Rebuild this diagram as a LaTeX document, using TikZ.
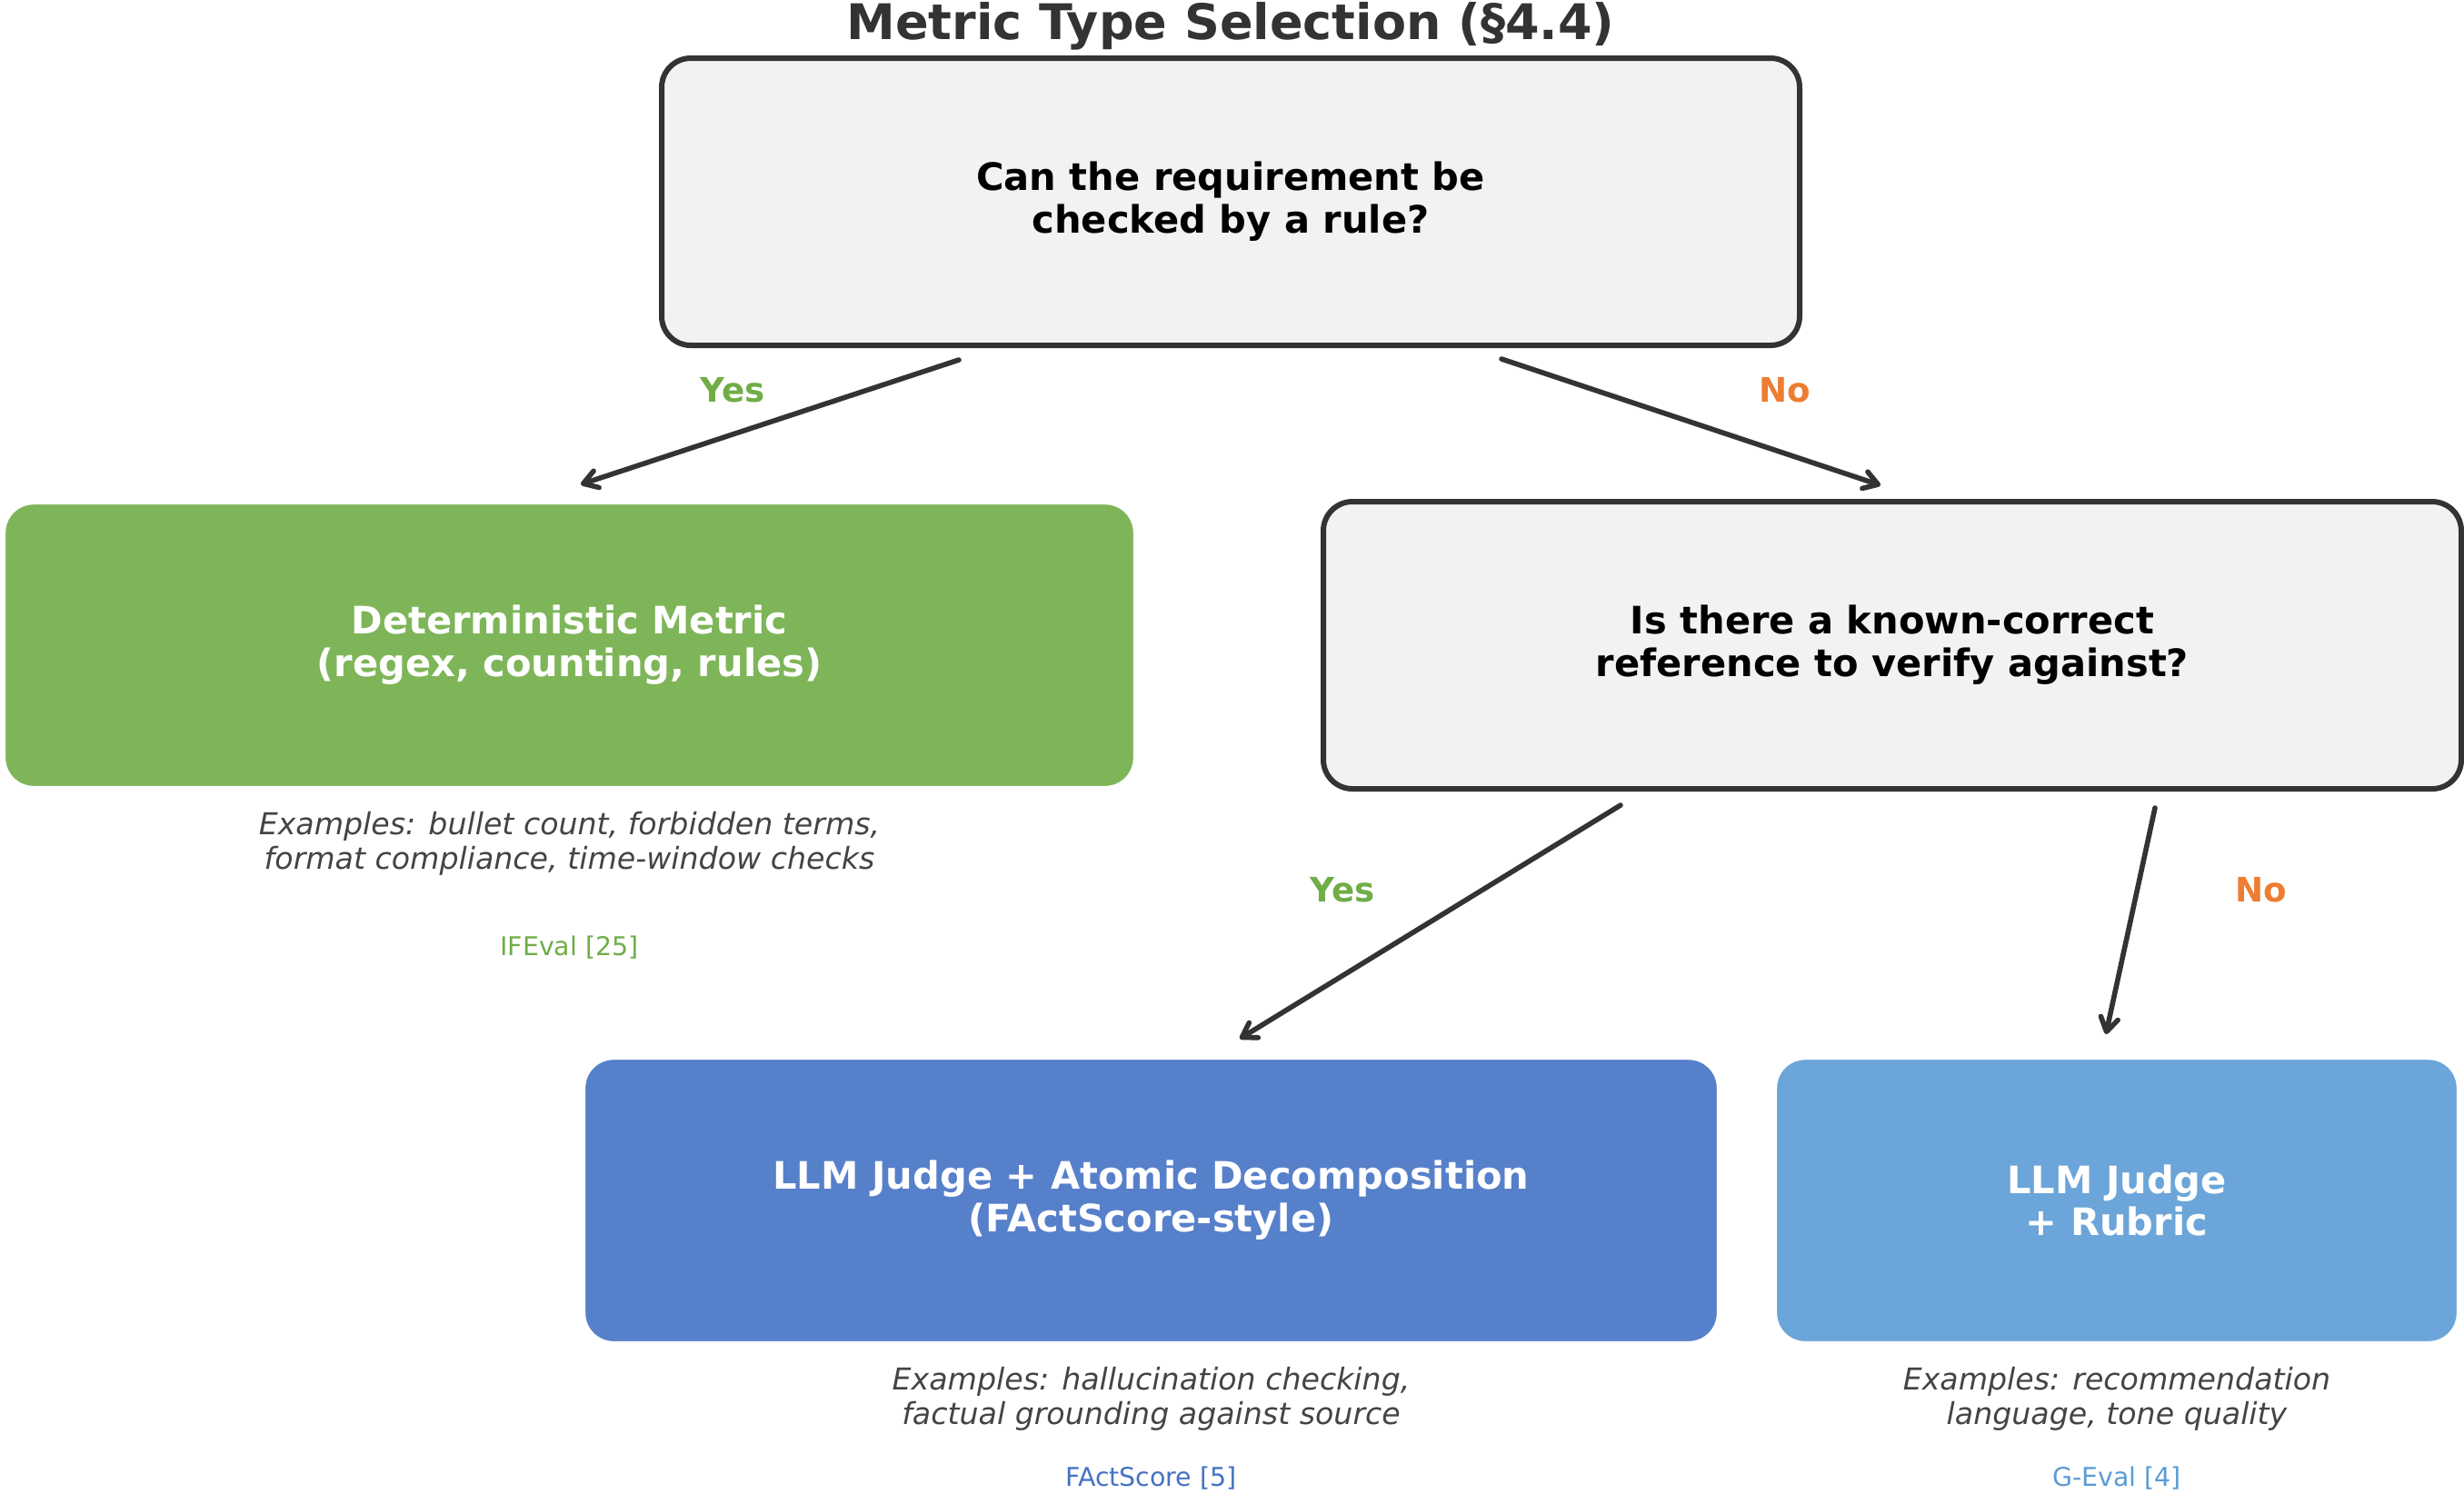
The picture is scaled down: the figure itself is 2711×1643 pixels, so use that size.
\documentclass[tikz,border=0pt]{standalone}
\usepackage{fontspec}
\setmainfont{DejaVu Sans}
\usepackage{tikz}
\usetikzlibrary{arrows.meta, calc}

\definecolor{edgegray}{HTML}{333333}
\definecolor{qfill}{HTML}{F2F2F2}
\definecolor{detgreen}{HTML}{70AD47}
\definecolor{atomblue}{HTML}{4472C4}
\definecolor{rubricblue}{HTML}{5B9BD5}
\definecolor{noorange}{HTML}{ED7D31}
\definecolor{examplegray}{HTML}{444444}

\begin{document}
\begin{tikzpicture}[x=0.25pt, y=-0.25pt,
				qbox/.style={draw=edgegray, line width=1.5pt, fill=qfill,
					rounded corners=8pt, outer sep=0pt, align=center,
					minimum width=313pt, minimum height=79pt,
					font=\bfseries\fontsize{10.4}{11.7}\selectfont},
				metricbox/.style={draw=white, line width=0.6pt, rounded corners=8pt,
					outer sep=0pt, text=white, align=center, minimum height=78pt,
					font=\bfseries\fontsize{10.4}{11.7}\selectfont},
				flow/.style={draw=edgegray, line width=1.4pt, line cap=round,
					-{Straight Barb[length=3.8pt, width=4.8pt, round]}},
				yeslbl/.style={text=detgreen, font=\bfseries\fontsize{9.3}{11}\selectfont},
				nolbl/.style={text=noorange, font=\bfseries\fontsize{9.3}{11}\selectfont},
				exmpl/.style={text=examplegray, align=center,
					font=\itshape\fontsize{8.3}{9.5}\selectfont},
				refs/.style={font=\fontsize{7.1}{8.5}\selectfont}]
				\useasboundingbox (0,0) rectangle (2711,1643);
				% title
				\node at (1354,43) (title) [anchor=base, text=edgegray,
					font=\bfseries\fontsize{13.5}{16}\selectfont] {Metric Type Selection (§4.4)};
				% questions
				\node at (1354,222) (q1) [qbox] {Can the requirement be\\checked by a rule?};
				\node at (2082,710) (q2) [qbox] {Is there a known-correct\\reference to verify against?};
				% outcomes
				\node at (626.5,710) (det) [metricbox, fill=detgreen!90, minimum width=310.75pt]
					{Deterministic Metric\\(regex, counting, rules)};
				\node at (1266.5,1321) (atom) [metricbox, fill=atomblue!90, minimum width=311.75pt]
					{LLM Judge + Atomic Decomposition\\(FActScore-style)};
				\node at (2329,1321) (rubric) [metricbox, fill=rubricblue!90, minimum width=187.5pt]
					{LLM Judge\\+ Rubric};
				% examples and references
				\node at (626.5,928) (detex) [exmpl] {Examples: bullet count, forbidden terms,\\format compliance, time-window checks};
				\node at (626.5,1043) (detref) [refs, text=detgreen] {IFEval [25]};
				\node at (1266.5,1539) (atomex) [exmpl] {Examples: hallucination checking,\\factual grounding against source};
				\node at (1266.5,1627) (atomref) [refs, text=atomblue] {FActScore [5]};
				\node at (2329,1539) (rubricex) [exmpl] {Examples: recommendation\\language, tone quality};
				\node at (2329,1627) (rubricref) [refs, text=rubricblue] {G-Eval [4]};
				% branch labels
				\node at (806,429) (yes1) [yeslbl] {Yes};
				\node at (1964,429) (no1) [nolbl] {No};
				\node at (1477,979) (yes2) [yeslbl] {Yes};
				\node at (2488,979) (no2) [nolbl] {No};
				% arrows
				\draw[flow] ($(q1.south)+(-299,16)$) -- ($(det.north)+(12.5,-21)$);
				\draw[flow] ($(q1.south)+(298,15)$) -- ($(q2.north)+(-13,-18)$);
				\draw[flow] ($(q2.south)+(-299,18)$) -- ($(atom.north)+(97.5,-22)$);
				\draw[flow] ($(q2.south)+(289,21)$) -- ($(rubric.north)+(-12,-27)$);
			\end{tikzpicture}
\end{document}
